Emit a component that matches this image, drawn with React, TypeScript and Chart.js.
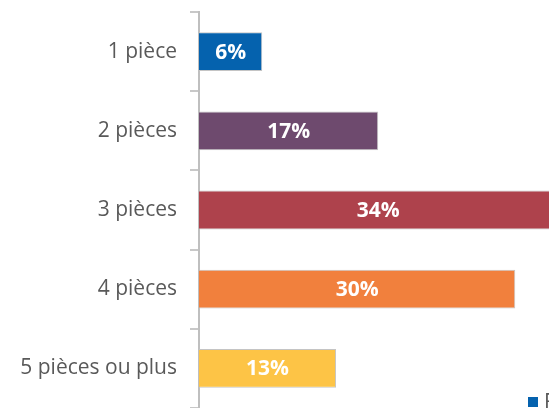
import React, { useEffect, useRef } from "react";
import { Chart, registerables } from "chart.js";

Chart.register(...registerables);

const categories = ["1 pièce", "2 pièces", "3 pièces", "4 pièces", "5 pièces ou plus"];
const values = [6, 17, 34, 30, 13];
const barColors = ["#0562AE", "#6E4A6E", "#AE424C", "#F1803D", "#FDC446"];
const legendLabel = "France";

const FONT = "'Open Sans', sans-serif";

const labelPlugin = {
  id: "barLabels",
  afterDatasetsDraw(chart: any) {
    const ctx = chart.ctx;
    const meta = chart.getDatasetMeta(0);
    ctx.save();
    ctx.font = "bold 21px " + FONT;
    ctx.fillStyle = "#FFFFFF";
    ctx.textAlign = "center";
    ctx.textBaseline = "middle";
    meta.data.forEach((bar: any, i: number) => {
      const cx = (bar.x + bar.base) / 2;
      ctx.fillText(values[i] + "%", cx, bar.y + 1);
    });
    ctx.restore();
  },
  afterDraw(chart: any) {
    const ctx = chart.ctx;
    ctx.save();
    ctx.fillStyle = barColors[0];
    ctx.fillRect(528, 397, 10, 10);
    ctx.fillStyle = "#595959";
    ctx.font = "21px " + FONT;
    ctx.textAlign = "left";
    ctx.textBaseline = "middle";
    ctx.fillText(legendLabel, 544, 403);
    ctx.restore();
  },
};

export default function App() {
  const ref = useRef<HTMLCanvasElement | null>(null);
  useEffect(() => {
    if (!ref.current) return;
    const chart = new Chart(ref.current, {
      type: "bar",
      data: {
        labels: categories,
        datasets: [
          {
            data: values,
            backgroundColor: barColors,
            borderColor: "#C4C4C4",
            borderWidth: 1,
            categoryPercentage: 1,
            barPercentage: 0.49,
          },
        ],
      },
      options: {
        indexAxis: "y",
        animation: false,
        responsive: true,
        maintainAspectRatio: false,
        layout: { padding: { top: 12, bottom: 0, left: 0, right: 0 } },
        plugins: {
          legend: { display: false },
          tooltip: { enabled: false },
        },
        scales: {
          x: {
            display: false,
            min: 0,
            max: 33.2,
          },
          y: {
            afterFit: (scale: any) => {
              scale.width = 199;
              scale.paddingTop = 0;
              scale.paddingBottom = 0;
            },
            border: { display: true, color: "#BFBFBF", width: 2 },
            grid: {
              display: true,
              drawOnChartArea: false,
              drawTicks: true,
              tickLength: 9,
              color: "#C8C8C8",
              lineWidth: 2,
              offset: true,
            },
            ticks: {
              color: "#595959",
              padding: 13,
              font: { family: FONT, size: 21 },
            },
          },
        },
      },
      plugins: [labelPlugin],
    });
    return () => chart.destroy();
  }, []);
  return (
    <div style={{ position: "fixed", left: 0, top: 0, width: 549, height: 408, background: "#FFFFFF" }}>
      <canvas ref={ref} />
    </div>
  );
}
